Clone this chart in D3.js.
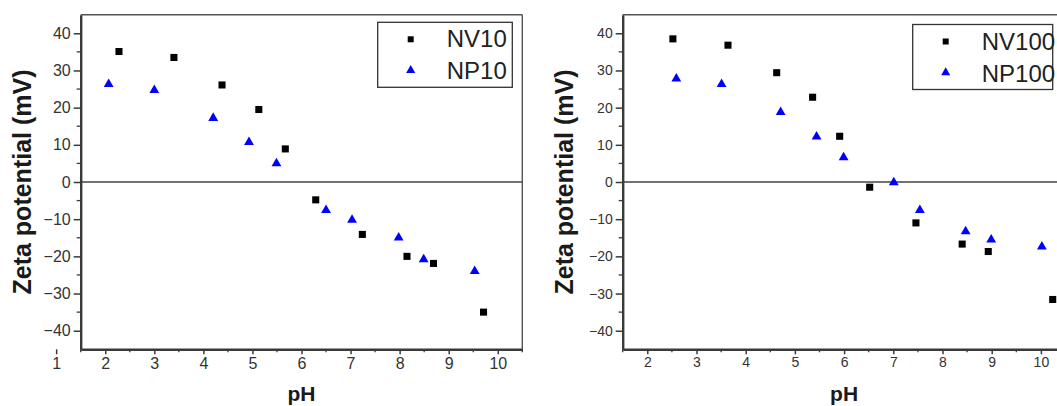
<!DOCTYPE html>
<html><head><meta charset="utf-8">
<script src="https://cdn.jsdelivr.net/npm/d3@7"></script>
<style>body{margin:0;background:#fff}svg{display:block}</style>
</head><body>
<svg id="c" width="1057" height="406"></svg>
<script>
// ---- data ----
const nv10_pH   = [2.28, 3.40, 4.38, 5.13, 5.67, 6.29, 7.24, 8.15, 8.69, 9.71];
const nv10_zeta = [35.1, 33.5, 26.1, 19.5, 8.9, -4.8, -14.1, -20.0, -21.9, -35.0];
const np10_pH   = [2.07, 3.00, 4.20, 4.93, 5.49, 6.50, 7.03, 7.98, 8.49, 9.53];
const np10_zeta = [26.3, 24.7, 17.2, 10.7, 5.0, -7.6, -10.2, -15.0, -20.8, -24.0];
const nv100_pH   = [2.52, 3.64, 4.63, 5.36, 5.91, 6.52, 7.46, 8.40, 8.93, 10.24];
const nv100_zeta = [38.5, 36.8, 29.4, 22.8, 12.3, -1.4, -11.0, -16.7, -18.7, -31.6];
const np100_pH   = [2.59, 3.51, 4.71, 5.44, 5.99, 7.01, 7.54, 8.47, 8.99, 10.02];
const np100_zeta = [27.8, 26.3, 18.8, 12.2, 6.6, -0.1, -7.6, -13.3, -15.5, -17.4];
const yTicks = [-40, -30, -20, -10, 0, 10, 20, 30, 40];
const yMinor = [-35, -25, -15, -5, 5, 15, 25, 35];
const xTicksLeft  = [1, 2, 3, 4, 5, 6, 7, 8, 9, 10];
const xTicksRight = [2, 3, 4, 5, 6, 7, 8, 9, 10];
const xMinor = [1.5, 2.5, 3.5, 4.5, 5.5, 6.5, 7.5, 8.5, 9.5, 10.5];
const seriesNames = [["NV10", "NP10"], ["NV100", "NP100"]];
const xTitle = "pH", yTitle = "Zeta potential (mV)";

const svg = d3.select("#c");
const axisCol = "#3a3a3a";

function panel(o) {
  const x = d3.scaleLinear().domain([1.5, 10.5]).range([o.x0, o.x1]);
  const y = d3.scaleLinear().domain([-45, 45]).range([349.3, 14.7]);
  const g = svg.append("g");
  // frame top and right
  g.append("line").attr("x1", o.x0).attr("x2", o.x1).attr("y1", y(45)).attr("y2", y(45))
    .attr("stroke", "#555").attr("stroke-width", 1.4);
  g.append("line").attr("x1", o.x1).attr("x2", o.x1).attr("y1", y(45)).attr("y2", y(-45))
    .attr("stroke", "#555").attr("stroke-width", 1.4);
  // zero line
  g.append("line").attr("x1", o.x0).attr("x2", o.x1).attr("y1", y(0)).attr("y2", y(0))
    .attr("stroke", "#444").attr("stroke-width", 1.5);

  // y axis
  const ya = g.append("g").attr("transform", `translate(${o.x0},0)`)
    .call(d3.axisLeft(y).tickValues(yTicks).tickSize(7).tickPadding(3).tickSizeOuter(0));
  ya.select(".domain").attr("stroke", axisCol).attr("stroke-width", 2.4);
  ya.selectAll(".tick line").attr("stroke", axisCol).attr("stroke-width", 1.5);
  ya.selectAll("text").attr("font-family", "Liberation Sans, Arial, sans-serif")
    .attr("font-size", o.tickFont).attr("fill", "#333");
  g.append("g").selectAll("line").data(yMinor).join("line")
    .attr("x1", o.x0 - 4).attr("x2", o.x0).attr("y1", d => y(d)).attr("y2", d => y(d))
    .attr("stroke", axisCol).attr("stroke-width", 1.3);

  // x axis
  const xa = g.append("g").attr("transform", `translate(0,${y(-45)})`)
    .call(d3.axisBottom(x).tickValues(o.xTicks).tickSize(5).tickPadding(3).tickSizeOuter(0));
  xa.select(".domain").attr("stroke", axisCol).attr("stroke-width", 2.4);
  xa.selectAll(".tick line").attr("stroke", axisCol).attr("stroke-width", 1.5);
  xa.selectAll("text").attr("font-family", "Liberation Sans, Arial, sans-serif")
    .attr("font-size", o.tickFont).attr("fill", "#333");
  g.append("g").selectAll("line").data(xMinor).join("line")
    .attr("x1", d => x(d)).attr("x2", d => x(d)).attr("y1", y(-45)).attr("y2", y(-45) + 3)
    .attr("stroke", axisCol).attr("stroke-width", 1.3);

  // titles
  g.append("text").attr("x", (o.x0 + o.x1) / 2).attr("y", 401).attr("text-anchor", "middle")
    .attr("font-family", "Liberation Sans, Arial, sans-serif").attr("font-weight", "bold")
    .attr("font-size", 21).attr("fill", "#1a1a1a").text(xTitle);
  g.append("text").attr("transform", `translate(${o.yTitleX},${y(0)}) rotate(-90)`)
    .attr("text-anchor", "middle").attr("dy", "0.36em")
    .attr("font-family", "Liberation Sans, Arial, sans-serif").attr("font-weight", "bold")
    .attr("font-size", o.yTitleFont).attr("fill", "#1a1a1a").text(yTitle);

  const sq = d3.symbol().type(d3.symbolSquare).size(50);
  const tri = d3.symbol().type(d3.symbolTriangle).size(42);
  // squares
  g.append("g").selectAll("path").data(o.sqX.map((v, i) => [v, o.sqY[i]])).join("path")
    .attr("d", sq).attr("transform", d => `translate(${x(d[0])},${y(d[1])})`).attr("fill", "#000");
  // triangles
  g.append("g").selectAll("path").data(o.trX.map((v, i) => [v, o.trY[i]])).join("path")
    .attr("d", tri).attr("transform", d => `translate(${x(d[0])},${y(d[1])})`).attr("fill", "#0000ff");

  // legend
  const lg = g.append("g");
  lg.append("rect").attr("x", o.lx).attr("y", o.ly).attr("width", o.lw).attr("height", 65)
    .attr("fill", "#fff").attr("stroke", "#333").attr("stroke-width", 1.3);
  lg.append("path").attr("d", d3.symbol().type(d3.symbolSquare).size(36))
    .attr("transform", `translate(${o.lx + 33},${o.ly + 17})`).attr("fill", "#000");
  lg.append("path").attr("d", d3.symbol().type(d3.symbolTriangle).size(36))
    .attr("transform", `translate(${o.lx + 33},${o.ly + 48})`).attr("fill", "#0000ff");
  o.names.forEach((n, i) => {
    lg.append("text").attr("x", o.lx + 69).attr("y", o.ly + 25 + i * 32)
      .attr("font-family", "Liberation Sans, Arial, sans-serif").attr("font-size", 24)
      .attr("fill", "#222").text(n);
  });
}

panel({x0: 80.7, x1: 522.3, xTicks: xTicksLeft, tickFont: 16, yTitleX: 22, yTitleFont: 25,
  sqX: nv10_pH, sqY: nv10_zeta, trX: np10_pH, trY: np10_zeta,
  lx: 377.7, ly: 22.3, lw: 134.6, names: seriesNames[0]});
panel({x0: 622.7, x1: 1065.5, xTicks: xTicksRight, tickFont: 14, yTitleX: 564, yTitleFont: 25,
  sqX: nv100_pH, sqY: nv100_zeta, trX: np100_pH, trY: np100_zeta,
  lx: 912.7, ly: 24.5, lw: 140, names: seriesNames[1]});
</script>
</body></html>
